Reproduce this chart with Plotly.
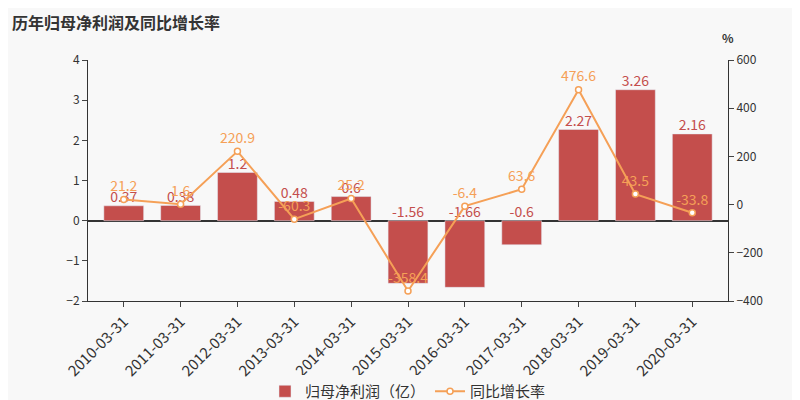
import plotly.graph_objects as go

dates = ["2010-03-31","2011-03-31","2012-03-31","2013-03-31","2014-03-31","2015-03-31",
         "2016-03-31","2017-03-31","2018-03-31","2019-03-31","2020-03-31"]
profit = [0.37,0.38,1.2,0.48,0.6,-1.56,-1.66,-0.6,2.27,3.26,2.16]
growth = [21.2,1.6,220.9,-60.3,25.2,-358.4,-6.4,63.6,476.6,43.5,-33.8]

bar_c = "#c44e4c"
line_c = "#f5a057"
fig = go.Figure()
fig.add_trace(go.Bar(x=dates, y=profit, name="归母净利润（亿）", marker_color=bar_c, width=0.7))
fig.add_trace(go.Scatter(x=dates, y=[max(v, 0) for v in profit], mode="text",
    text=[str(v) for v in profit], textposition="top center",
    textfont=dict(color=bar_c, size=14), showlegend=False, hoverinfo="skip"))
fig.add_trace(go.Scatter(x=dates, y=growth, yaxis="y2", name="同比增长率", mode="lines+markers+text",
    line=dict(color=line_c, width=2), marker=dict(color="white", size=6, line=dict(color=line_c, width=1.5)),
    text=[str(v) for v in growth], textposition="top center", textfont=dict(color=line_c, size=14)))

fig.update_layout(
    width=800, height=400, paper_bgcolor="#f8f8f8", plot_bgcolor="#f8f8f8",
    margin=dict(l=80, r=80, t=52, b=107, autoexpand=False),
    font=dict(family="Noto Sans CJK SC", color="#333"),
    title=dict(text="<b>历年归母净利润及同比增长率</b>", x=0.005, y=0.975, xanchor="left", yanchor="top",
               font=dict(size=16, color="#333")),
    xaxis=dict(type="category", tickangle=-45, tickfont=dict(size=15), showline=True, linecolor="#333", ticks="outside"),
    yaxis=dict(range=[-2, 4], dtick=1, showgrid=False, zeroline=True, zerolinecolor="#333",
               showline=True, linecolor="#333", ticks="outside", tickfont=dict(size=12)),
    yaxis2=dict(range=[-400, 600], dtick=200, overlaying="y", side="right", showgrid=False,
                zeroline=False, showline=True, linecolor="#333", ticks="outside", tickfont=dict(size=12)),
    legend=dict(orientation="h", x=0.5, xanchor="center", y=0.0, yanchor="bottom", yref="container",
                font=dict(size=15)),
    annotations=[dict(text="<b>%</b>", x=1.0, y=1.05, xref="paper", yref="paper", showarrow=False,
                      xanchor="center", yanchor="bottom", font=dict(size=12))],
)
fig.write_html("out.html")
